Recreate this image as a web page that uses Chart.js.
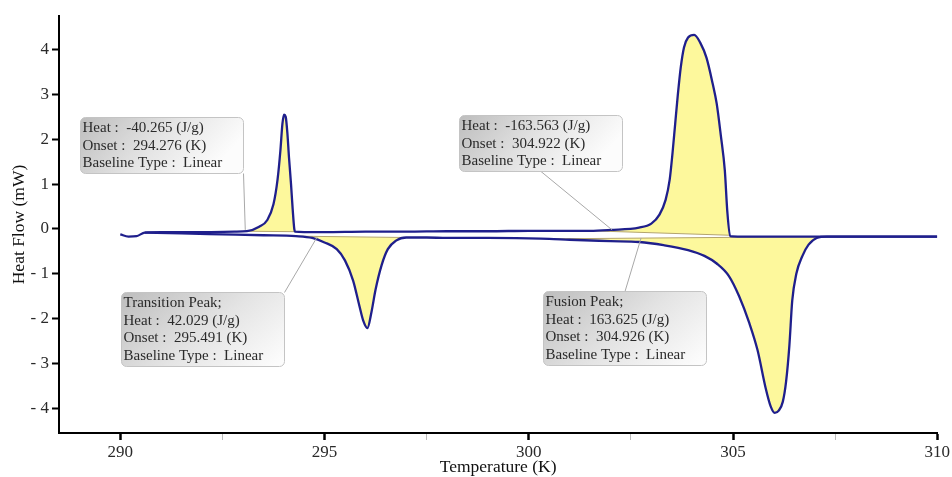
<!DOCTYPE html>
<html><head><meta charset="utf-8">
<script src="https://cdn.jsdelivr.net/npm/chart.js@4.4.1/dist/chart.umd.min.js"></script>
<style>html,body{margin:0;padding:0;background:#fff;}canvas{display:block;}</style>
</head><body>
<canvas id="c" width="952" height="477"></canvas>
<script>
// ---------- DATA ----------
const coolingTemp = [290.0,290.2,290.4,290.6,291.0,292.0,292.8,293.1,293.4,293.6,293.75,293.85,293.92,293.97,294.01,294.05,294.09,294.13,294.18,294.22,294.26,294.28,294.5,295.0,296.0,297.0,298.0,299.0,300.0,301.0,301.5,302.0,302.7,303.0,303.2,303.35,303.45,303.52,303.58,303.65,303.72,303.8,303.9,304.05,304.2,304.35,304.5,304.6,304.7,304.8,304.86,304.93,305.2,306.0,307.0,308.0,309.0,310.0];
const coolingHeatFlow = [-0.12,-0.17,-0.16,-0.08,-0.07,-0.07,-0.06,-0.05,0.05,0.2,0.55,1.1,1.75,2.35,2.55,2.5,2.15,1.6,1.0,0.45,0.0,-0.06,-0.07,-0.07,-0.06,-0.06,-0.05,-0.05,-0.04,-0.04,-0.04,-0.02,0.03,0.12,0.32,0.65,1.1,1.7,2.3,3.0,3.6,4.05,4.27,4.33,4.15,3.82,3.25,2.8,2.1,1.3,0.4,-0.16,-0.17,-0.17,-0.17,-0.17,-0.17,-0.17];
const heatingTemp = [290.6,291.5,292.5,293.5,294.3,294.7,295.0,295.3,295.5,295.7,295.85,295.95,296.05,296.15,296.25,296.4,296.55,296.75,297.0,297.5,298.0,299.0,300.0,300.5,301.0,302.0,302.7,303.3,303.9,304.3,304.6,304.9,305.15,305.4,305.6,305.8,305.92,306.02,306.12,306.22,306.3,306.38,306.45,306.55,306.7,306.85,307.05,307.3,308.0,309.0,310.0];
const heatingHeatFlow = [-0.08,-0.1,-0.12,-0.14,-0.16,-0.2,-0.3,-0.45,-0.7,-1.15,-1.7,-2.05,-2.21,-1.85,-1.35,-0.8,-0.45,-0.26,-0.19,-0.19,-0.2,-0.2,-0.21,-0.22,-0.24,-0.27,-0.29,-0.36,-0.47,-0.6,-0.77,-1.05,-1.5,-2.1,-2.7,-3.55,-3.95,-4.1,-4.05,-3.85,-3.4,-2.6,-1.6,-1.0,-0.6,-0.35,-0.2,-0.17,-0.17,-0.17,-0.17];
// integration baselines (start, end) for each peak
const peakCurve = ['cooling','heating','cooling','heating'];
const baselineStartTemp = [293.1, 294.3, 301.5, 300.5];
const baselineEndTemp = [294.28, 297.0, 304.93, 307.3];
const baselineStartHeatFlow = [-0.05, -0.16, -0.04, -0.22];
const baselineEndHeatFlow = [-0.06, -0.19, -0.14, -0.17];
// ticks
const xTickValues = [290,292.5,295,297.5,300,302.5,305,307.5,310];
const xTickLabels = ['290','','295','','300','','305','','310'];
const yTickValues = [-4,-3,-2,-1,0,1,2,3,4];
const yTickLabels = ['- 4','- 3','- 2','- 1','0','1','2','3','4'];
// annotations
const annotationTexts = [
  ['Heat :  -40.265 (J/g)','Onset :  294.276 (K)','Baseline Type :  Linear'],
  ['Heat :  -163.563 (J/g)','Onset :  304.922 (K)','Baseline Type :  Linear'],
  ['Transition Peak;','Heat :  42.029 (J/g)','Onset :  295.491 (K)','Baseline Type :  Linear'],
  ['Fusion Peak;','Heat :  163.625 (J/g)','Onset :  304.926 (K)','Baseline Type :  Linear']
];
const annotationPointTemp = [293.06, 302.04, 294.82, 302.75];
const annotationPointHeatFlow = [-0.02, -0.02, -0.18, -0.2];

// ---------- LAYOUT / STYLE ----------
const boxLayout = [
  {t:289.02, q:2.50, from:[1,1]},
  {t:298.30, q:2.54, from:[0.5,1]},
  {t:290.01, q:-1.40, from:[1,0]},
  {t:300.35, q:-1.38, from:[0.5,0]}
];
const SERIF = "'Liberation Serif','Times New Roman',serif";
const LINE = '#1f1f8c';
const FILL = '#fdf89c';
const BASE = '#b3a46e';

const toPts = (xs, ys) => xs.map((x,i)=>({x, y:ys[i]}));
const curves = {
  cooling: toPts(coolingTemp, coolingHeatFlow),
  heating: toPts(heatingTemp, heatingHeatFlow)
};

const datasets = [
  {data: curves.cooling, borderColor: LINE, borderWidth: 2.3, pointRadius: 0, fill: false, cubicInterpolationMode:'monotone'},
  {data: curves.heating, borderColor: LINE, borderWidth: 2.3, pointRadius: 0, fill: false, cubicInterpolationMode:'monotone'}
];
peakCurve.forEach((c,i)=>{
  const baseIdx = datasets.length;
  datasets.push({data:[{x:baselineStartTemp[i],y:baselineStartHeatFlow[i]},{x:baselineEndTemp[i],y:baselineEndHeatFlow[i]}],
    borderColor: BASE, borderWidth: 1, pointRadius: 0, fill: false});
  datasets.push({data: curves[c].filter(p=>p.x>=baselineStartTemp[i]-1e-9 && p.x<=baselineEndTemp[i]+1e-9),
    borderWidth: 0, borderColor:'rgba(0,0,0,0)', pointRadius: 0, backgroundColor: FILL,
    fill: {target: baseIdx}, cubicInterpolationMode:'monotone'});
});

const decorPlugin = {
  id: 'decor',
  afterDatasetsDraw(chart){
    const {ctx, scales:{x, y}, chartArea} = chart;
    ctx.save();
    annotationTexts.forEach((lines,i)=>{
      const L = boxLayout[i];
      const bx = Math.round(x.getPixelForValue(L.t))+0.5, by = Math.round(y.getPixelForValue(L.q))+0.5;
      const w = 163, lh = 17.7, h = Math.round(lines.length*lh + 3);
      const px = x.getPixelForValue(annotationPointTemp[i]), py = y.getPixelForValue(annotationPointHeatFlow[i]);
      ctx.strokeStyle = '#a8a8a8'; ctx.lineWidth = 1;
      ctx.beginPath(); ctx.moveTo(bx + w*L.from[0], by + h*L.from[1]); ctx.lineTo(px, py); ctx.stroke();
      const g = ctx.createLinearGradient(bx, by, bx + w*0.6, by + h*1.6);
      g.addColorStop(0, '#bdbdbd'); g.addColorStop(0.55, '#e4e4e4'); g.addColorStop(1, '#fcfcfc');
      ctx.fillStyle = g; ctx.strokeStyle = '#c4c4c4';
      ctx.beginPath(); ctx.roundRect(bx, by, w, h, 5); ctx.fill(); ctx.stroke();
      ctx.fillStyle = '#2a2a2a'; ctx.font = '15px ' + SERIF; ctx.textBaseline = 'middle'; ctx.textAlign = 'left';
      lines.forEach((s,k)=> ctx.fillText(s, bx + 2, by + 10.5 + k*lh));
    });
    ctx.fillStyle = '#111'; ctx.font = '17.5px ' + SERIF; ctx.textAlign = 'center'; ctx.textBaseline = 'middle';
    ctx.fillText('Temperature (K)', (chartArea.left+chartArea.right)/2, 467);
    ctx.save(); ctx.translate(19, (chartArea.top+chartArea.bottom)/2); ctx.rotate(-Math.PI/2);
    ctx.fillText('Heat Flow (mW)', 0, 0); ctx.restore();
    ctx.restore();
  }
};

new Chart(document.getElementById('c'), {
  type: 'line',
  data: {datasets},
  options: {
    responsive: false, animation: false,
    layout: {padding: {top: 16, right: 14, left: 0, bottom: 0}},
    plugins: {legend:{display:false}, tooltip:{enabled:false}},
    elements: {line: {tension: 0}},
    scales: {
      x: {
        type: 'linear', min: 288.5, max: 310,
        afterBuildTicks: s => { s.ticks = xTickValues.map(v=>({value:v})); },
        afterFit: s => { s.height = 44; },
        ticks: {autoSkip:false, maxRotation:0, padding: 2, color:'#2a2a2a', font:{family:SERIF, size:17},
          callback: (v) => { const k = xTickValues.indexOf(v); return k>=0 ? xTickLabels[k] : ''; }},
        grid: {drawOnChartArea:false, drawTicks:true, tickLength:7,
          tickColor: c => (c.tick && c.tick.value % 5 === 0) ? '#000' : '#bbb',
          tickWidth: c => (c.tick && c.tick.value % 5 === 0) ? 2.5 : 1},
        border: {color:'#000', width:2}
      },
      y: {
        type: 'linear', min: -4.55, max: 4.75,
        afterBuildTicks: s => { s.ticks = yTickValues.map(v=>({value:v})); },
        afterFit: s => { s.width = 59; },
        ticks: {autoSkip:false, padding: 3, color:'#2a2a2a', font:{family:SERIF, size:17},
          callback: (v) => { const k = yTickValues.indexOf(v); return k>=0 ? yTickLabels[k] : ''; }},
        grid: {drawOnChartArea:false, drawTicks:true, tickLength:7, tickColor:'#000', tickWidth:2},
        border: {color:'#000', width:2}
      }
    }
  },
  plugins: [decorPlugin]
});
</script>
</body></html>
